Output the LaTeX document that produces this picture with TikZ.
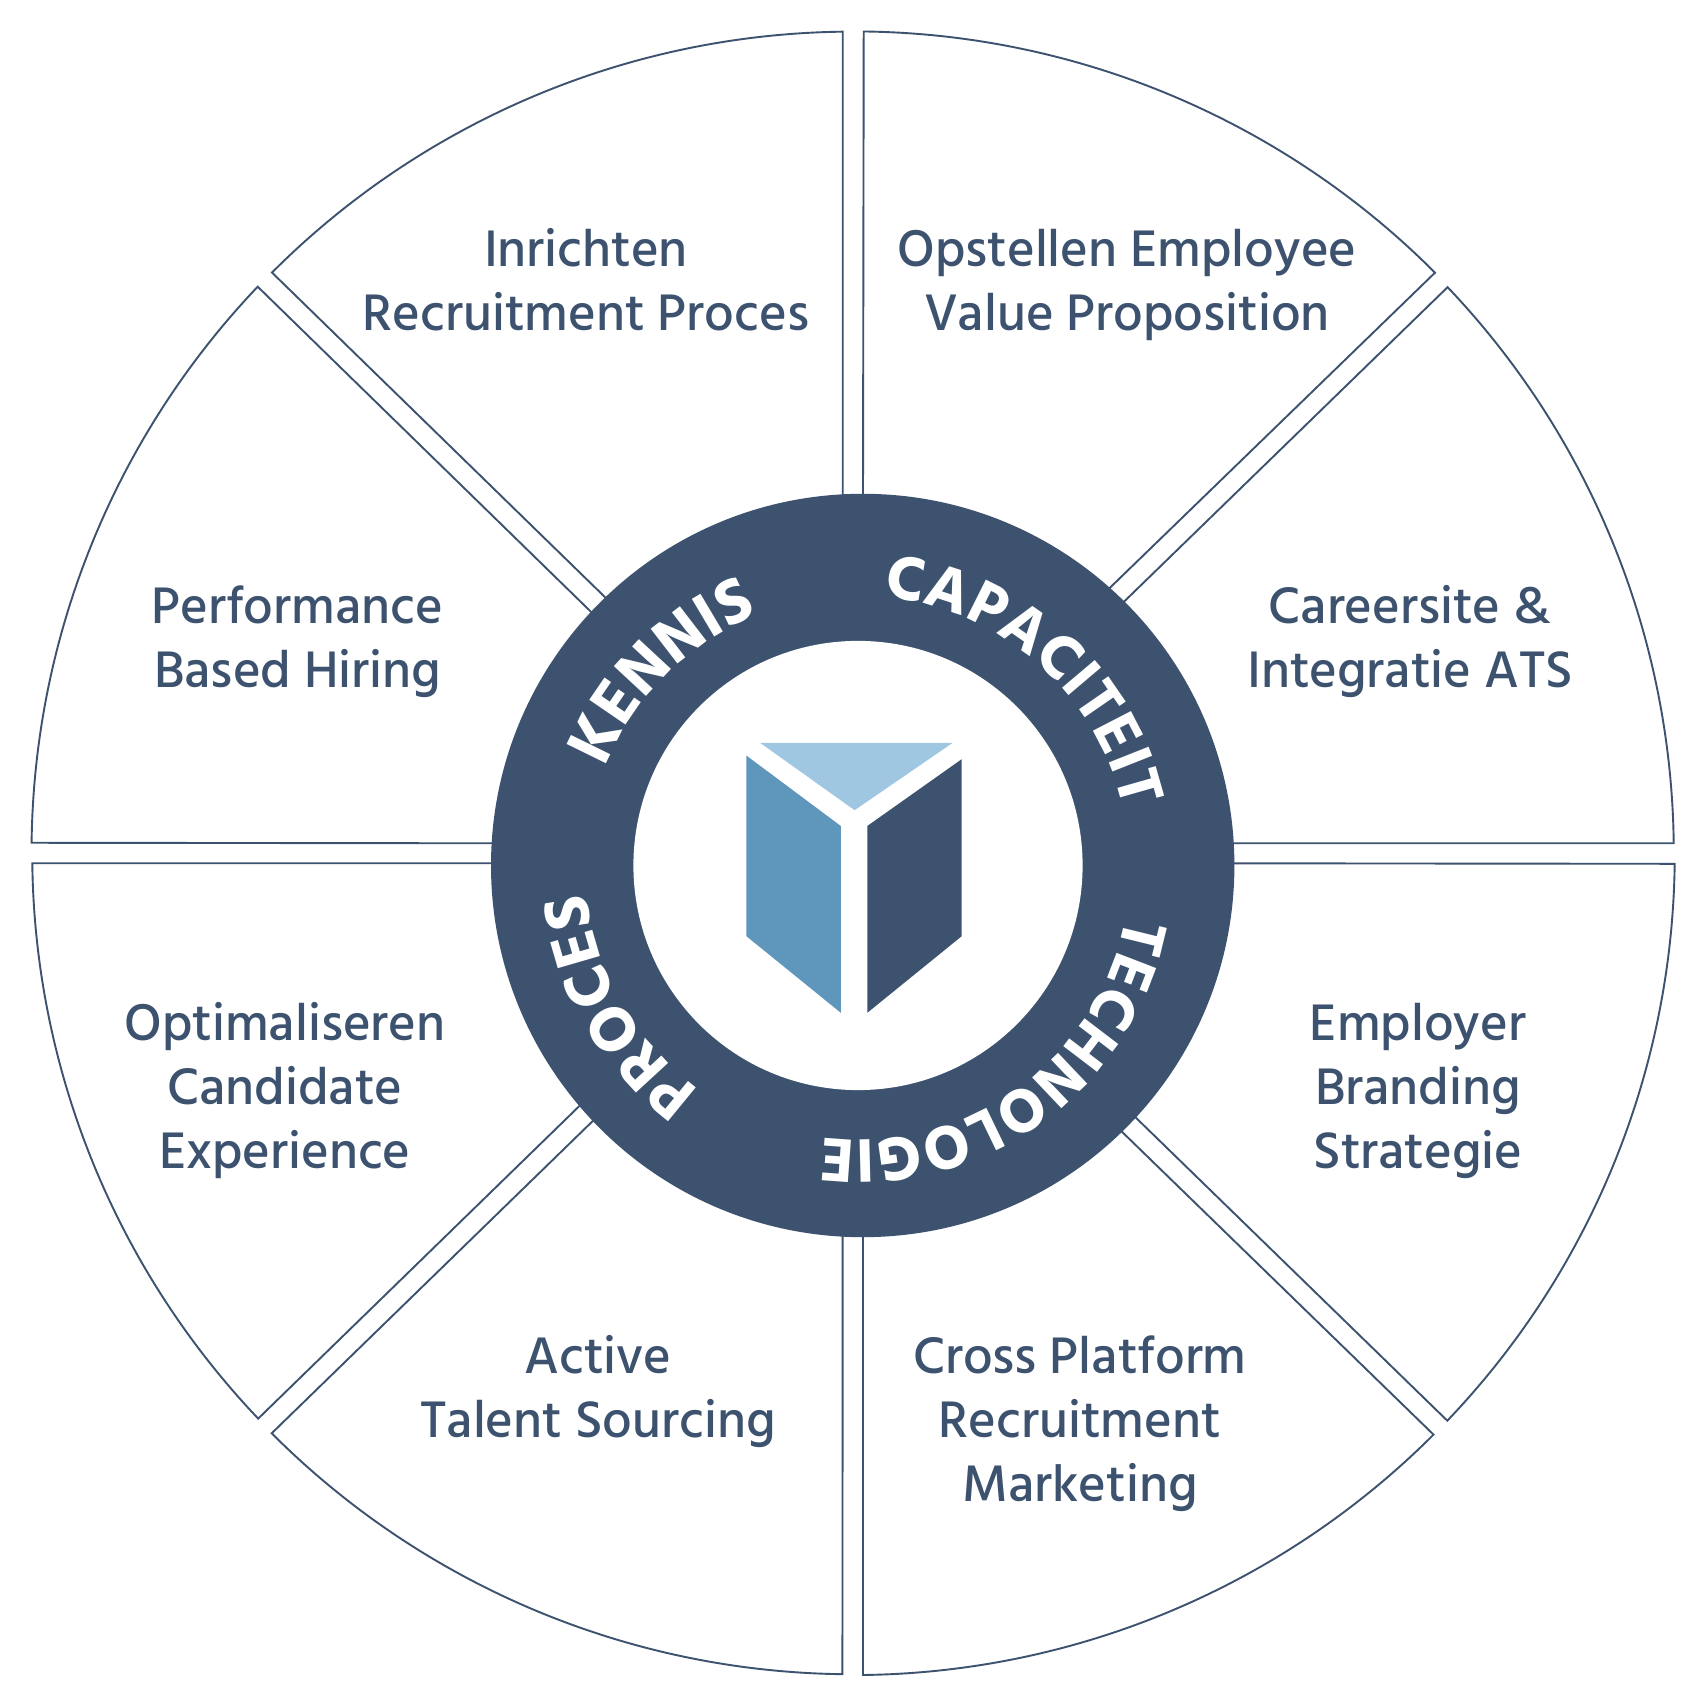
\documentclass[tikz,border=0pt]{standalone}
\usepackage{fontspec}
\usetikzlibrary{decorations.text}
\setmainfont{Hind Madurai Medium}
\newfontfamily\ringfont{Hind Madurai Bold}
\definecolor{navy}{HTML}{3C526E}
\definecolor{midblue}{HTML}{5F96BC}
\definecolor{lightblue}{HTML}{9FC7E1}
\newcommand{\fx}{\vphantom{Ag}}
\tikzset{
  wedgeline/.style={draw=navy,line width=1.9pt,line join=miter,fill=none},
  itemlabel/.style={text=navy,align=center,font=\fontsize{52.7}{64}\selectfont,inner sep=0pt},
  ringtext/.style 2 args={decorate,decoration={text along path,text align=center,
     text={|\ringfont\fontsize{#1}{#1}\selectfont\color{white}|#2}}}
}
\begin{document}
\begin{tikzpicture}[x=1pt,y=1pt]
\useasboundingbox (0,0) rectangle (1706,1707);
\fill[white] (0,0) rectangle (1706,1707);
% wedges
\draw[wedgeline] (842.7,1207) -- (842.7,1675.3) arc[start angle=90.72,end angle=135.05,radius=821] -- (612,1103);
\draw[wedgeline] (598,1088.3) -- (257.7,1420.3) arc[start angle=136.43,end angle=179.32,radius=821] -- (500,863.7);
\draw[wedgeline] (500,843.7) -- (32.3,843.7) arc[start angle=180.72,end angle=223.55,radius=821] -- (587,608.4);
\draw[wedgeline] (601,594) -- (271.7,273.7) arc[start angle=224.95,end angle=269.28,radius=821] -- (842.7,500);
\draw[wedgeline] (863,500) -- (863,32) arc[start angle=270.7,end angle=315,radius=821] -- (1116,581);
\draw[wedgeline] (1130,595) -- (1447.3,286.3) arc[start angle=316.3,end angle=359.28,radius=821] -- (1200,843.7);
\draw[wedgeline] (1200,863.7) -- (1673.7,863.7) arc[start angle=0.68,end angle=43.57,radius=821] -- (1117,1098.5);
\draw[wedgeline] (1103,1112.5) -- (1435,1434.3) arc[start angle=44.92,end angle=89.3,radius=821] -- (863,1207);
% ring
\fill[navy] (862.7,841.5) circle[radius=371.7];
\fill[white] (858,841.5) circle[radius=224.6];
% logo
\fill[lightblue] (760.2,964.1) -- (952.6,964.1) -- (854.6,896.8) -- cycle;
\fill[midblue] (746.4,951.4) -- (840.8,881) -- (840.8,694.2) -- (746.4,770.8) -- cycle;
\fill[navy] (961.7,947.8) -- (867.3,881) -- (867.3,694.2) -- (961.7,770.8) -- cycle;
% ring labels
\coordinate (rc) at (858,839);
\path[ringtext={65}{KENNIS}] (rc) ++(160:272) arc[start angle=160,end angle=110,radius=272];
\path[ringtext={63.5}{CAPACITEIT}] (rc) ++(91:272) arc[start angle=91,end angle=6,radius=272];
\path[ringtext={63}{TECHNOLOGIE}] (rc) ++(-5:272) arc[start angle=-5,end angle=-103,radius=272];
\path[ringtext={65}{PROCES}] (rc) ++(239:272) arc[start angle=239,end angle=181,radius=272];
% item labels
\node[itemlabel] (inrichten) at (586,1422.5) {\fx Inrichten\\\fx Recruitment Proces};
\node[itemlabel] (opstellen) at (1127,1421.7) {\fx Opstellen Employee\\\fx Value Proposition};
\node[itemlabel] (performance) at (297.5,1065.7) {\fx Performance\\\fx Based Hiring};
\node[itemlabel] (careersite) at (1410,1065.7) {\fx Careersite \&\\\fx Integratie ATS};
\node[itemlabel] (optimaliseren) at (285,616.7) {\fx Optimaliseren\\\fx Candidate\\\fx Experience};
\node[itemlabel] (employer) at (1418,615.7) {\fx Employer\\\fx Branding\\\fx Strategie};
\node[itemlabel] (active) at (598,315.7) {\fx Active\\\fx Talent Sourcing};
\node[itemlabel] (cross) at (1080,283.7) {\fx Cross Platform\\\fx Recruitment\\\fx Marketing};
\end{tikzpicture}
\end{document}
